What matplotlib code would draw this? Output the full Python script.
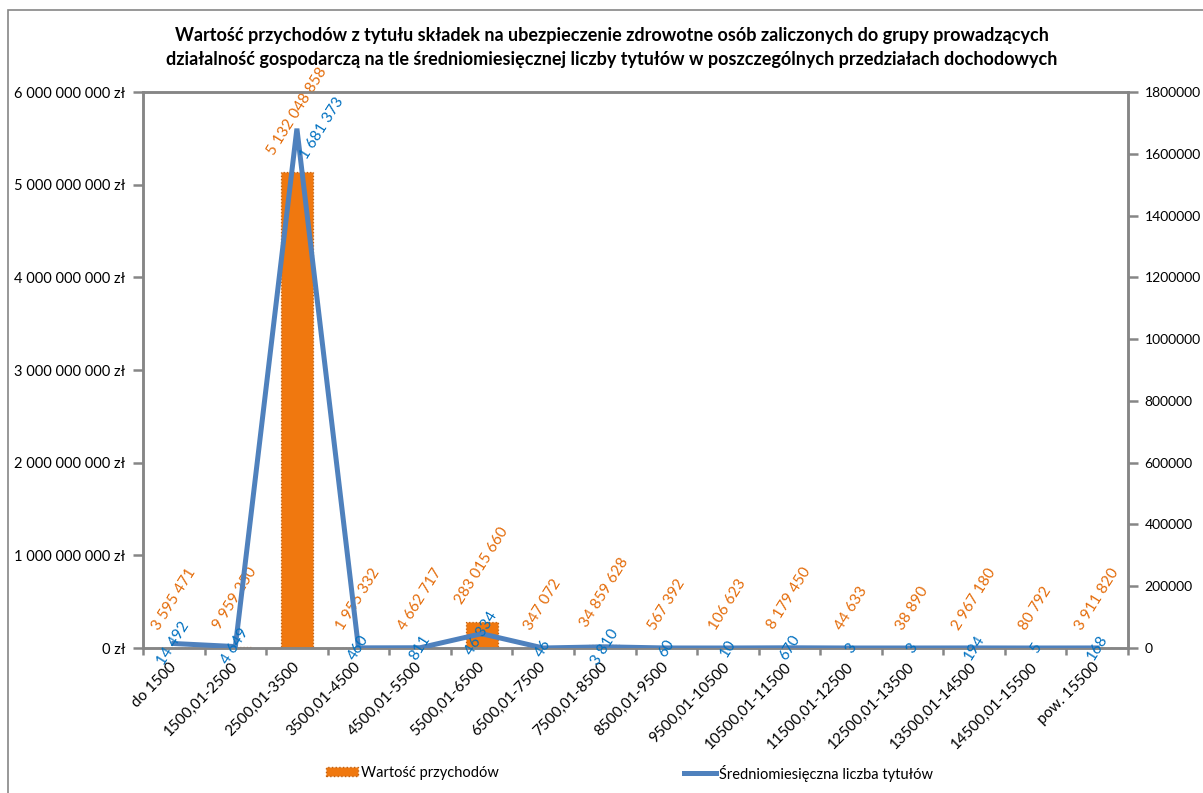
import matplotlib
matplotlib.use("Agg")
import matplotlib.pyplot as plt
from matplotlib.patches import Rectangle, Patch
from matplotlib.lines import Line2D
from matplotlib.ticker import FuncFormatter, MultipleLocator

FONT = ['Lato', 'DejaVu Sans']
plt.rcParams['font.family'] = FONT

categories = ["do 1500", "1500,01-2500", "2500,01-3500", "3500,01-4500", "4500,01-5500",
              "5500,01-6500", "6500,01-7500", "7500,01-8500", "8500,01-9500", "9500,01-10500",
              "10500,01-11500", "11500,01-12500", "12500,01-13500", "13500,01-14500",
              "14500,01-15500", "pow. 15500"]
revenue = [3595471, 9959250, 5132048858, 1955332, 4662717, 283015660, 347072, 34859628,
           567392, 106623, 8179450, 44633, 38890, 2967180, 80792, 3911820]
titles_count = [14492, 4649, 1681373, 460, 811, 46334, 46, 3810, 60, 10, 670, 3, 3, 194, 5, 168]

title = ("Wartość przychodów z tytułu składek na ubezpieczenie zdrowotne osób zaliczonych do grupy prowadzących\n"
         "działalność gospodarczą na tle średniomiesięcznej liczby tytułów w poszczególnych przedziałach dochodowych")
legend_bar = "Wartość przychodów"
legend_line = "Średniomiesięczna liczba tytułów"

ORANGE = '#F0780F'
ORANGE_EDGE = '#C06010'
ORANGE_TXT = '#E46C0A'
BLUE = '#4F81BD'
BLUE_TXT = '#0070C0'
GRAY = '#868686'

W, H = 1203, 793
fig = plt.figure(figsize=(W / 100, H / 100), dpi=100)
fig.patch.set_facecolor('white')

# outer chart frame
fig.patches.append(Rectangle((8 / W, -0.2), 2, (1 - 10 / H) + 0.2, transform=fig.transFigure,
                             fill=False, edgecolor=GRAY, lw=1.2))

ax = fig.add_axes([143 / W, 1 - 648 / H, (1128 - 143) / W, (648 - 92) / H])
ax2 = ax.twinx()

x = list(range(len(categories)))
ax.bar(x, revenue, width=0.52, color=ORANGE, edgecolor=ORANGE_EDGE, linewidth=0.9,
       linestyle=':', zorder=2)
ax.set_xlim(-0.5, len(categories) - 0.5)
ax.set_ylim(0, 6e9)
ax.yaxis.set_major_locator(MultipleLocator(1e9))
ax.yaxis.set_major_formatter(FuncFormatter(lambda v, p: f"{int(v):,}".replace(',', ' ') + " zł"))

ax2.plot(x, titles_count, color=BLUE, lw=3.6, zorder=3, solid_joinstyle='miter')
ax2.set_ylim(0, 1800000)
ax2.yaxis.set_major_locator(MultipleLocator(200000))
ax2.yaxis.set_major_formatter(FuncFormatter(lambda v, p: f"{int(v)}"))

for a in (ax, ax2):
    for s in a.spines.values():
        s.set_color(GRAY)
        s.set_linewidth(1.8)
    a.set_facecolor('none')

ax.set_xticks(x)
ax.set_xticklabels(categories, rotation=45, ha='right', rotation_mode='anchor', va='center')
ax.set_xticks([i - 0.5 for i in range(len(categories) + 1)], minor=True)
ax.tick_params(axis='x', which='major', length=0, pad=12, labelsize=11)
ax.tick_params(axis='x', which='minor', length=5, width=1.8, color=GRAY, direction='out')
ax.tick_params(axis='y', length=7, width=1.8, color=GRAY, labelsize=10.5, pad=6)
ax2.tick_params(axis='y', length=7, width=1.8, color=GRAY, labelsize=10, pad=5)

fmt = lambda v: f"{v:,}".replace(',', ' ')

for i, v in enumerate(revenue):
    ax.annotate(fmt(v), (i, v), xytext=(0, 11), textcoords='offset points',
                ha='center', va='bottom', rotation=58, color=ORANGE_TXT, fontsize=11,
                annotation_clip=False, zorder=4)

peak = titles_count.index(max(titles_count))
for i, v in enumerate(titles_count):
    dx = 18 if i == peak else 0
    ax2.annotate(fmt(v), (i, v), xytext=(dx, 0), textcoords='offset points',
                 ha='center', va='center', rotation=58, color=BLUE_TXT, fontsize=11,
                 annotation_clip=False, zorder=5)

fig.text(612 / W, 1 - 48 / H, title, ha='center', va='center', fontsize=13, fontweight='bold',
         linespacing=1.5)

h1 = Patch(facecolor=ORANGE, edgecolor=ORANGE_EDGE, linestyle=':')
h2 = Line2D([0], [0], color=BLUE, lw=3.6)
leg1 = fig.legend([h1], [legend_bar], loc='center left', bbox_to_anchor=(326 / W, 1 - 773 / H),
                  frameon=False, fontsize=10.5, handlelength=2.2, handleheight=0.6,
                  handletextpad=0.2, borderaxespad=0, borderpad=0)
leg2 = fig.legend([h2], [legend_line], loc='center left', bbox_to_anchor=(684 / W, 1 - 773 / H),
                  frameon=False, fontsize=10.5, handlelength=2.2,
                  handletextpad=0.2, borderaxespad=0, borderpad=0)

fig.savefig('out.png', dpi=100)
